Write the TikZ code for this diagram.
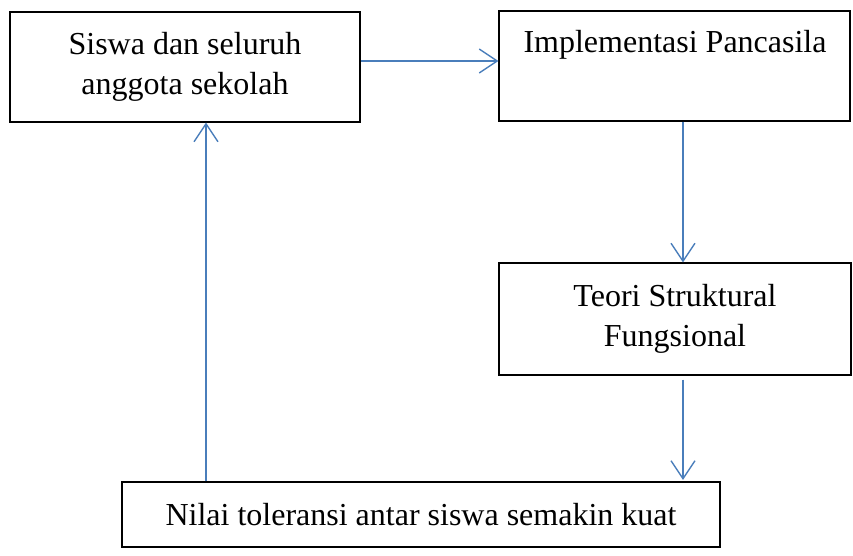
\documentclass[tikz,border=0pt]{standalone}
\usepackage{fontspec}
\setmainfont{Liberation Serif}
\usetikzlibrary{arrows.meta}
\definecolor{arrblue}{HTML}{4A7EBB}
\tikzset{
  box/.style={draw=black, line width=1.1pt, inner sep=0pt, align=center,
    font=\fontsize{32}{40}\selectfont},
  lbl/.style={inner sep=0pt, font=\fontsize{32}{40}\selectfont},
  arr/.style={draw=arrblue, line width=1.4pt, -{Straight Barb[length=18pt,width=24pt,line width=1.4pt]}}
}
\begin{document}
\begin{tikzpicture}[x=1pt,y=-1pt]
\useasboundingbox (0,0) rectangle (853,555);
\node[box, minimum width=350pt, minimum height=110pt] (b1) at (185,67) {Siswa dan seluruh\\anggota sekolah};
\node[box, minimum width=351pt, minimum height=110pt] (b2) at (674.5,66) {};
\node[lbl, anchor=base] (t2) at (675,52) {Implementasi Pancasila};
\node[box, minimum width=352pt, minimum height=112pt] (b3) at (675,319) {Teori Struktural\\Fungsional};
\node[box, minimum width=598pt, minimum height=65pt] (b4) at (421,514.5) {Nilai toleransi antar siswa semakin kuat};
\coordinate (upx) at (206,0);
\coordinate (dnx) at (683,0);
\coordinate (hy) at (0,61);
\draw[arr] (b1.east |- hy) -- (b2.west |- hy);
\draw[arr] (b2.south -| dnx) -- (b3.north -| dnx);
\draw[arr] ([yshift=-4pt]b3.south -| dnx) -- ([yshift=1.5pt]b4.north -| dnx);
\draw[arr] (b4.north -| upx) -- (b1.south -| upx);
\end{tikzpicture}
\end{document}
